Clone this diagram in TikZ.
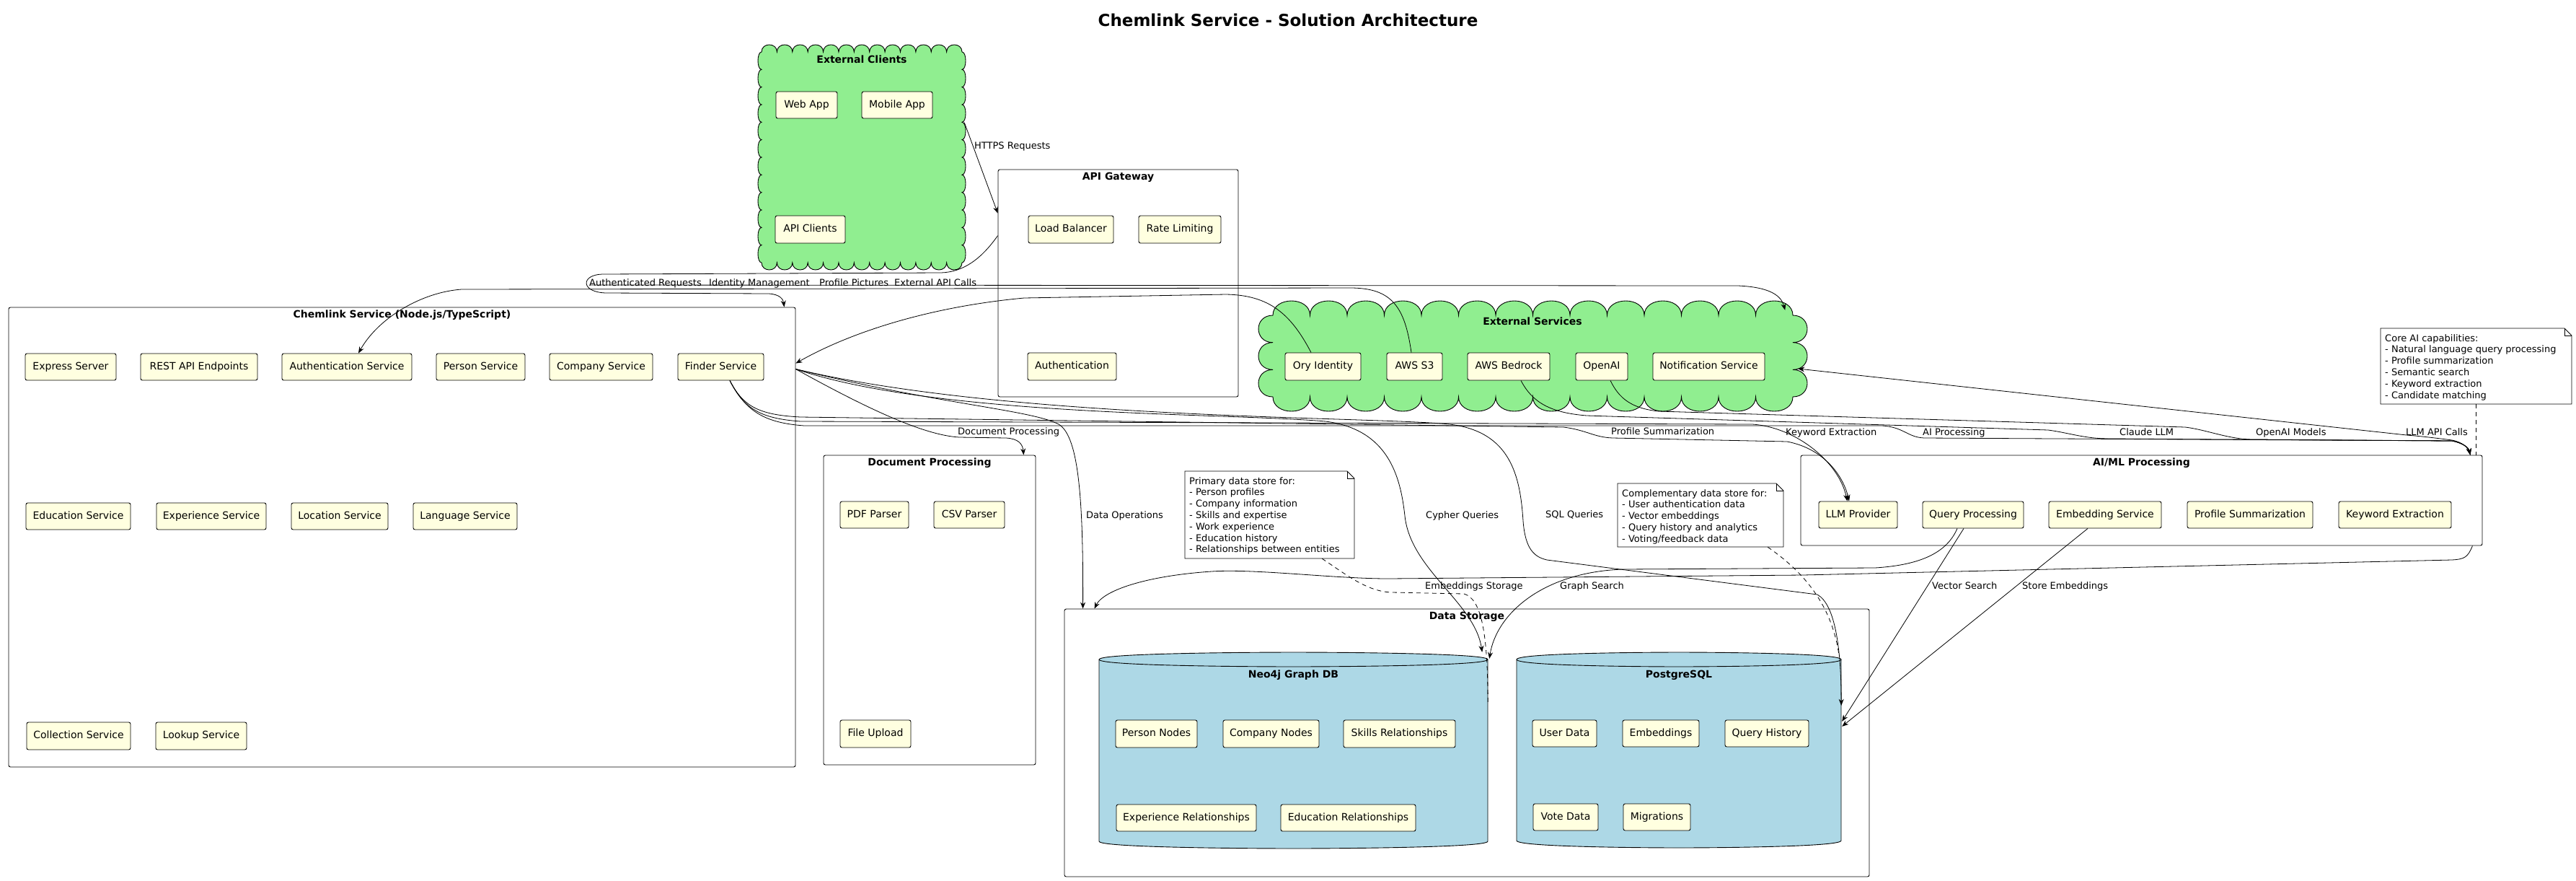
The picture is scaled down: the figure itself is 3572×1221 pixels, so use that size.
\documentclass[tikz,border=0pt]{standalone}
\usepackage{fontspec}
\setmainfont{DejaVu Sans}
\usetikzlibrary{arrows.meta,calc}
\definecolor{compfill}{HTML}{FFFFE0}
\definecolor{cloudgreen}{HTML}{90EE90}
\definecolor{dbblue}{HTML}{ADD8E6}
\tikzset{
 compbox/.style={draw=black, fill=compfill, line width=0.9pt, rounded corners=2.5pt, inner sep=0pt, font=\fontsize{14}{16}\selectfont, text height=10.5pt, text depth=3pt},
 contbox/.style={draw=black, line width=0.9pt, rounded corners=2.5pt, inner sep=0pt},
 conttitle/.style={font=\bfseries\fontsize{14}{16}\selectfont, inner sep=0pt, text height=10.5pt, text depth=3pt},
 elabel/.style={font=\fontsize{13}{15}\selectfont, anchor=west, inner sep=0pt, text height=9.5pt, text depth=2.5pt},
 notetext/.style={font=\fontsize{13}{15.8}\selectfont, align=left, anchor=north west, inner sep=0pt},
 conn/.style={draw=black, line width=0.8pt, -{Stealth[length=9pt,width=7pt,inset=3pt]}},
 dashconn/.style={draw=black, line width=0.8pt, dash pattern=on 6pt off 5pt},
 ghost/.style={inner sep=0pt, draw=none},
}
\newcommand{\mkcomp}[6]{\node[compbox, minimum width={(#4)-(#2)}, minimum height={(#5)-(#3)}] (#1) at ({((#2)+(#4))/2},{((#3)+(#5))/2}) {#6};}
\newcommand{\mkcont}[6]{\node[contbox, minimum width={(#4)-(#2)}, minimum height={(#5)-(#3)}] (#1) at ({((#2)+(#4))/2},{((#3)+(#5))/2}) {};
 \node[conttitle] (#1T) at ({((#2)+(#4))/2},{(#3)+11}) {#6};}
\newcommand{\mkcloud}[9]{%
 \pgfmathsetmacro\cldw{((#4)-(#2))/(#6)}%
 \pgfmathsetmacro\cldh{((#5)-(#3))/(#7)}%
 \pgfmathsetmacro\cldax{4/3*(#8)}%
 \pgfmathsetmacro\clday{4/3*(#9)}%
 \filldraw[fill=cloudgreen, draw=black, line width=0.9pt] (#2,#3)
  \foreach \i in {1,...,#6} { .. controls ({#2+(\i-1)*\cldw},{#3-\clday}) and ({#2+\i*\cldw},{#3-\clday}) .. ({#2+\i*\cldw},#3) }
  \foreach \i in {1,...,#7} { .. controls ({#4+\cldax},{#3+(\i-1)*\cldh}) and ({#4+\cldax},{#3+\i*\cldh}) .. (#4,{#3+\i*\cldh}) }
  \foreach \i in {1,...,#6} { .. controls ({#4-(\i-1)*\cldw},{#5+\clday}) and ({#4-\i*\cldw},{#5+\clday}) .. ({#4-\i*\cldw},#5) }
  \foreach \i in {1,...,#7} { .. controls ({#2-\cldax},{#5-(\i-1)*\cldh}) and ({#2-\cldax},{#5-\i*\cldh}) .. (#2,{#5-\i*\cldh}) }
  -- cycle;
 \node[ghost, minimum width={(#4)-(#2)+2*(#8)}, minimum height={(#5)-(#3)+2*(#9)}] (#1) at ({((#2)+(#4))/2},{((#3)+(#5))/2}) {};
}
\newcommand{\mkcyl}[6]{%
 \pgfmathsetmacro\cym{((#2)+(#4))/2}%
 \filldraw[fill=dbblue, draw=black, line width=0.9pt] (#2,{#3+10}) .. controls (#2,#3) and (\cym,#3) .. (\cym,#3) .. controls (\cym,#3) and (#4,#3) .. (#4,{#3+10}) -- (#4,{#5-10}) .. controls (#4,#5) and (\cym,#5) .. (\cym,#5) .. controls (\cym,#5) and (#2,#5) .. (#2,{#5-10}) -- cycle;
 \draw[line width=0.9pt] (#2,{#3+10}) .. controls (#2,{#3+20}) and (\cym,{#3+20}) .. (\cym,{#3+20}) .. controls (\cym,{#3+20}) and (#4,{#3+20}) .. (#4,{#3+10});
 \node[ghost, minimum width={(#4)-(#2)}, minimum height={(#5)-(#3)}] (#1) at (\cym,{((#3)+(#5))/2}) {};
 \node[conttitle] (#1T) at (\cym,{#3+32}) {#6};
}
\newcommand{\mknote}[6]{%
 \node[ghost, minimum width={(#4)-(#2)}, minimum height={(#5)-(#3)}] (#1) at ({((#2)+(#4))/2},{((#3)+(#5))/2}) {};
 \filldraw[fill=white, draw=black, line width=0.9pt] (#2,#3) -- ({#4-10},#3) -- (#4,{#3+10}) -- (#4,#5) -- (#2,#5) -- cycle;
 \draw[line width=0.9pt] ({#4-10},#3) -- ({#4-10},{#3+10}) -- (#4,{#3+10});
 \node[notetext] (#1T) at ({#2+6},{#3+8}) {#6};
}
\begin{document}
\begin{tikzpicture}[x=1pt,y=-1pt]
\useasboundingbox (0,0) rectangle (3572,1221);
\fill[white] (0,0) rectangle (3572,1221);

\node[font=\bfseries\fontsize{23}{27}\selectfont, inner sep=0pt] (title) at (1786,28) {Chemlink Service - Solution Architecture};

% containers
\mkcont{gateway}{1384}{235}{1717}{550}{API Gateway}
\mkcont{chemlink}{12}{426}{1103}{1063}{Chemlink Service (Node.js/TypeScript)}
\mkcont{docproc}{1142}{631}{1436}{1060}{Document Processing}
\mkcont{storage}{1476}{844}{2592}{1215}{Data Storage}
\mkcont{aiml}{2497}{631}{3442}{756}{AI/ML Processing}

% clouds
\mkcloud{clients}{1056}{72}{1334}{364}{13}{12}{5}{10}
\node[conttitle] (clientsT) at (1195,84) {External Clients};
\mkcloud{extsvc}{1765}{437}{2486}{550}{14}{3}{20}{20}
\node[conttitle] (extsvcT) at (2125,447) {External Services};

% databases
\mkcyl{neo4j}{1524}{904}{2063}{1176}{Neo4j Graph DB}
\mkcyl{postgres}{2103}{904}{2553}{1175}{PostgreSQL}

% components
\mkcomp{webapp}{1076}{127}{1161}{164}{Web App}
\mkcomp{mobileapp}{1195}{127}{1293}{164}{Mobile App}
\mkcomp{apiclients}{1075}{299}{1172}{337}{API Clients}
\mkcomp{lb}{1426}{299}{1544}{337}{Load Balancer}
\mkcomp{rl}{1579}{299}{1693}{337}{Rate Limiting}
\mkcomp{authgw}{1425}{489}{1548}{527}{Authentication}

\mkcomp{express}{35}{490}{161}{527}{Express Server}
\mkcomp{rest}{195}{490}{357}{527}{REST API Endpoints}
\mkcomp{authsvc}{391}{490}{571}{527}{Authentication Service}
\mkcomp{person}{605}{490}{728}{527}{Person Service}
\mkcomp{company}{762}{490}{905}{527}{Company Service}
\mkcomp{finder}{940}{490}{1059}{527}{Finder Service}
\mkcomp{education}{36}{697}{181}{734}{Education Service}
\mkcomp{experience}{217}{697}{369}{734}{Experience Service}
\mkcomp{location}{404}{697}{538}{734}{Location Service}
\mkcomp{language}{573}{697}{717}{734}{Language Service}
\mkcomp{collection}{37}{1001}{181}{1039}{Collection Service}
\mkcomp{lookup}{216}{1001}{342}{1039}{Lookup Service}

\mkcomp{pdf}{1165}{695}{1260}{732}{PDF Parser}
\mkcomp{csv}{1295}{695}{1393}{732}{CSV Parser}
\mkcomp{upload}{1165}{998}{1263}{1036}{File Upload}

\mkcomp{pnodes}{1547}{998}{1660}{1036}{Person Nodes}
\mkcomp{cnodes}{1696}{998}{1829}{1036}{Company Nodes}
\mkcomp{skills}{1863}{998}{2018}{1036}{Skills Relationships}
\mkcomp{exprel}{1548}{1115}{1742}{1152}{Experience Relationships}
\mkcomp{edurel}{1776}{1115}{1963}{1152}{Education Relationships}

\mkcomp{userdata}{2125}{998}{2214}{1035}{User Data}
\mkcomp{embeddings}{2250}{998}{2356}{1035}{Embeddings}
\mkcomp{qhist}{2392}{998}{2508}{1035}{Query History}
\mkcomp{vote}{2126}{1114}{2216}{1151}{Vote Data}
\mkcomp{migr}{2251}{1114}{2344}{1151}{Migrations}

\mkcomp{llm}{2522}{695}{2631}{732}{LLM Provider}
\mkcomp{qproc}{2666}{695}{2806}{732}{Query Processing}
\mkcomp{embsvc}{2841}{695}{2997}{732}{Embedding Service}
\mkcomp{profsum}{3033}{695}{3207}{732}{Profile Summarization}
\mkcomp{kwext}{3243}{695}{3399}{732}{Keyword Extraction}

\mkcomp{ory}{1782}{489}{1887}{527}{Ory Identity}
\mkcomp{s3}{1923}{489}{2000}{527}{AWS S3}
\mkcomp{bedrock}{2035}{489}{2149}{527}{AWS Bedrock}
\mkcomp{openai}{2185}{489}{2257}{527}{OpenAI}
\mkcomp{notif}{2292}{489}{2447}{527}{Notification Service}

% notes
\mknote{primary}{1643}{653}{1878}{774}{Primary data store for:\\- Person profiles\\- Company information\\- Skills and expertise\\- Work experience\\- Education history\\- Relationships between entities}
\mknote{compnote}{2243}{670}{2473}{758}{Complementary data store for:\\- User authentication data\\- Vector embeddings\\- Query history and analytics\\- Voting/feedback data}
\mknote{core}{3301}{455}{3566}{560}{Core AI capabilities:\\- Natural language query processing\\- Profile summarization\\- Semantic search\\- Keyword extraction\\- Candidate matching}

% helper coordinates
\coordinate (chemR) at ($(chemlink.north east)+(0,86)$);
\coordinate (finderB) at ($(finder.south)+(12.5,0)$);
\coordinate (aimlIn) at ($(aiml.north east)+(-17,0)$);
\coordinate (extstart) at (818,395);

% connectors
\draw[conn] ($(clients.north east)+(-2,108)$) -- ($(gateway.north west)+(0,61)$);
\draw[conn] ($(gateway.north west)+(0,92)$) .. controls (1360,360) and (1335,377) .. (1305,378) -- (835,380) .. controls (805,381) and (805,405) .. (840,406) -- (1066,407) .. controls (1082,408) and (1086,415) .. ($(chemlink.north east)+(-16,0)$);
\draw[conn] ($(s3.north)+(-4.5,0)$) .. controls (1948,425) and (1930,400) .. (1875,399) -- (640,401) .. controls (585,405) and (525,440) .. ($(authsvc.north)+(16,0)$);
\draw[conn] ($(ory.north)+(-16.5,0)$) .. controls (1790,435) and (1760,409) .. (1700,408) -- (1420,413) .. controls (1290,425) and (1180,460) .. ($(chemlink.north east)+(0,78)$);
\draw[conn] (extstart) -- (2410,396) .. controls (2455,398) and (2470,410) .. ($(extsvc.north east)+(-31,13)$);

\draw[conn] (chemR) .. controls (1200,565) and (1280,603) .. (1330,606) -- (1395,607) .. controls (1412,608) and (1418,615) .. ($(docproc.north east)+(-17,0)$);
\draw[conn] (chemR) .. controls (1300,560) and (1430,568) .. (1468,588) .. controls (1497,605) and (1502,700) .. ($(storage.north west)+(26,0)$);
\draw[conn] (chemR) .. controls (1300,578) and (1700,572) .. (1838,584) .. controls (1925,595) and (1942,660) .. (1948,715) .. controls (1956,790) and (2045,835) .. ($(neo4j.north east)+(-8,0)$);
\draw[conn] (chemR) .. controls (1400,582) and (1900,577) .. (2010,588) .. controls (2095,598) and (2108,660) .. (2112,722) .. controls (2115,762) and (2128,772) .. (2145,776) -- (2520,824) .. controls (2545,838) and (2553,900) .. ($(postgres.north east)+(0,74)$);

\draw[conn] (finderB) .. controls (1030,562) and (1050,575) .. (1110,578) -- (2168,592) .. controls (2200,596) and (2210,606) .. (2236,607) -- (2478,612) .. controls (2530,622) and (2556,660) .. ($(llm.north)+(-12.5,0)$);
\draw[conn] (finderB) .. controls (1032,567) and (1055,580) .. (1110,584) -- (2430,588) .. controls (2490,592) and (2550,640) .. ($(llm.north)+(-15,0)$);
\draw[conn] (finderB) .. controls (1034,570) and (1060,586) .. (1115,590) -- (2610,590) .. controls (2640,592) and (2645,606) .. (2668,607) -- (3400,611) .. controls (3415,614) and (3423,620) .. (aimlIn);
\draw[conn] ($(bedrock.south)+(17,0)$) .. controls (2125,558) and (2150,572) .. (2200,576) -- (2840,596) .. controls (2870,600) and (2890,608) .. (2925,608) -- (3400,611) .. controls (3415,614) and (3423,620) .. (aimlIn);
\draw[conn] ($(openai.south)+(12,0)$) .. controls (2245,552) and (2262,566) .. (2300,570) -- (3030,592) .. controls (3062,596) and (3090,609) .. (3125,609) -- (3400,611) .. controls (3415,614) and (3423,620) .. (aimlIn);
\draw[conn] (aimlIn) .. controls (3423,620) and (3415,613) .. (3400,610) .. controls (3370,606) and (3350,604) .. (3337,603) -- ($(extsvc.east)+(-13,17.5)$);

\draw[conn] ($(aiml.south east)+(-14,0)$) .. controls (3422,772) and (3418,775) .. (3400,776) -- (2500,797) -- (1925,802) .. controls (1850,802) and (1740,788) .. (1680,792) .. controls (1590,798) and (1530,818) .. ($(storage.north west)+(42,0)$);
\draw[conn] ($(qproc.south)+(-22,0)$) .. controls (2700,765) and (2665,783) .. (2600,787) -- (2250,789) .. controls (2140,793) and (2075,850) .. ($(neo4j.north east)+(2,9)$);
\draw[conn] ($(qproc.south)+(-13,0)$) -- ($(postgres.north east)+(1,96)$);
\draw[conn] ($(embsvc.south)+(-24,0)$) -- ($(postgres.north east)+(1,103)$);

% note links
\draw[dashconn] ($(primary.south east)+(-45,0)$) .. controls (1865,795) and (1895,820) .. (1930,821) -- (2030,823) .. controls (2055,830) and (2063,880) .. ($(neo4j.north east)+(0,73)$);
\draw[dashconn] ($(compnote.south east)+(-22,0)$) .. controls (2490,785) and (2540,830) .. ($(postgres.north east)+(-3,6)$);
\draw[dashconn] (core.south) -- (core.south |- aiml.north);

% labels
\node[elabel] (l1) at (1351,203) {HTTPS Requests};
\node[elabel] (l2) at (817,393) {Authenticated Requests};
\node[elabel] (l3) at (983,393) {Identity Management};
\node[elabel] (l4) at (1136,393) {Profile Pictures};
\node[elabel] (l5) at (1240,393) {External API Calls};
\node[elabel] (l6) at (1328,599) {Document Processing};
\node[elabel] (l7) at (1506,715) {Data Operations};
\node[elabel] (l8) at (1977,715) {Cypher Queries};
\node[elabel] (l9) at (2143,714) {SQL Queries};
\node[elabel] (l10) at (2234,599) {Profile Summarization};
\node[elabel] (l11) at (2476,600) {Keyword Extraction};
\node[elabel] (l12) at (2666,600) {AI Processing};
\node[elabel] (l13) at (2939,600) {Claude LLM};
\node[elabel] (l14) at (3128,600) {OpenAI Models};
\node[elabel] (l15) at (3336,600) {LLM API Calls};
\node[elabel] (l16) at (1976,813) {Embeddings Storage};
\node[elabel] (l17) at (2163,813) {Graph Search};
\node[elabel] (l18) at (2679,813) {Vector Search};
\node[elabel] (l19) at (2804,813) {Store Embeddings};
\end{tikzpicture}
\end{document}
